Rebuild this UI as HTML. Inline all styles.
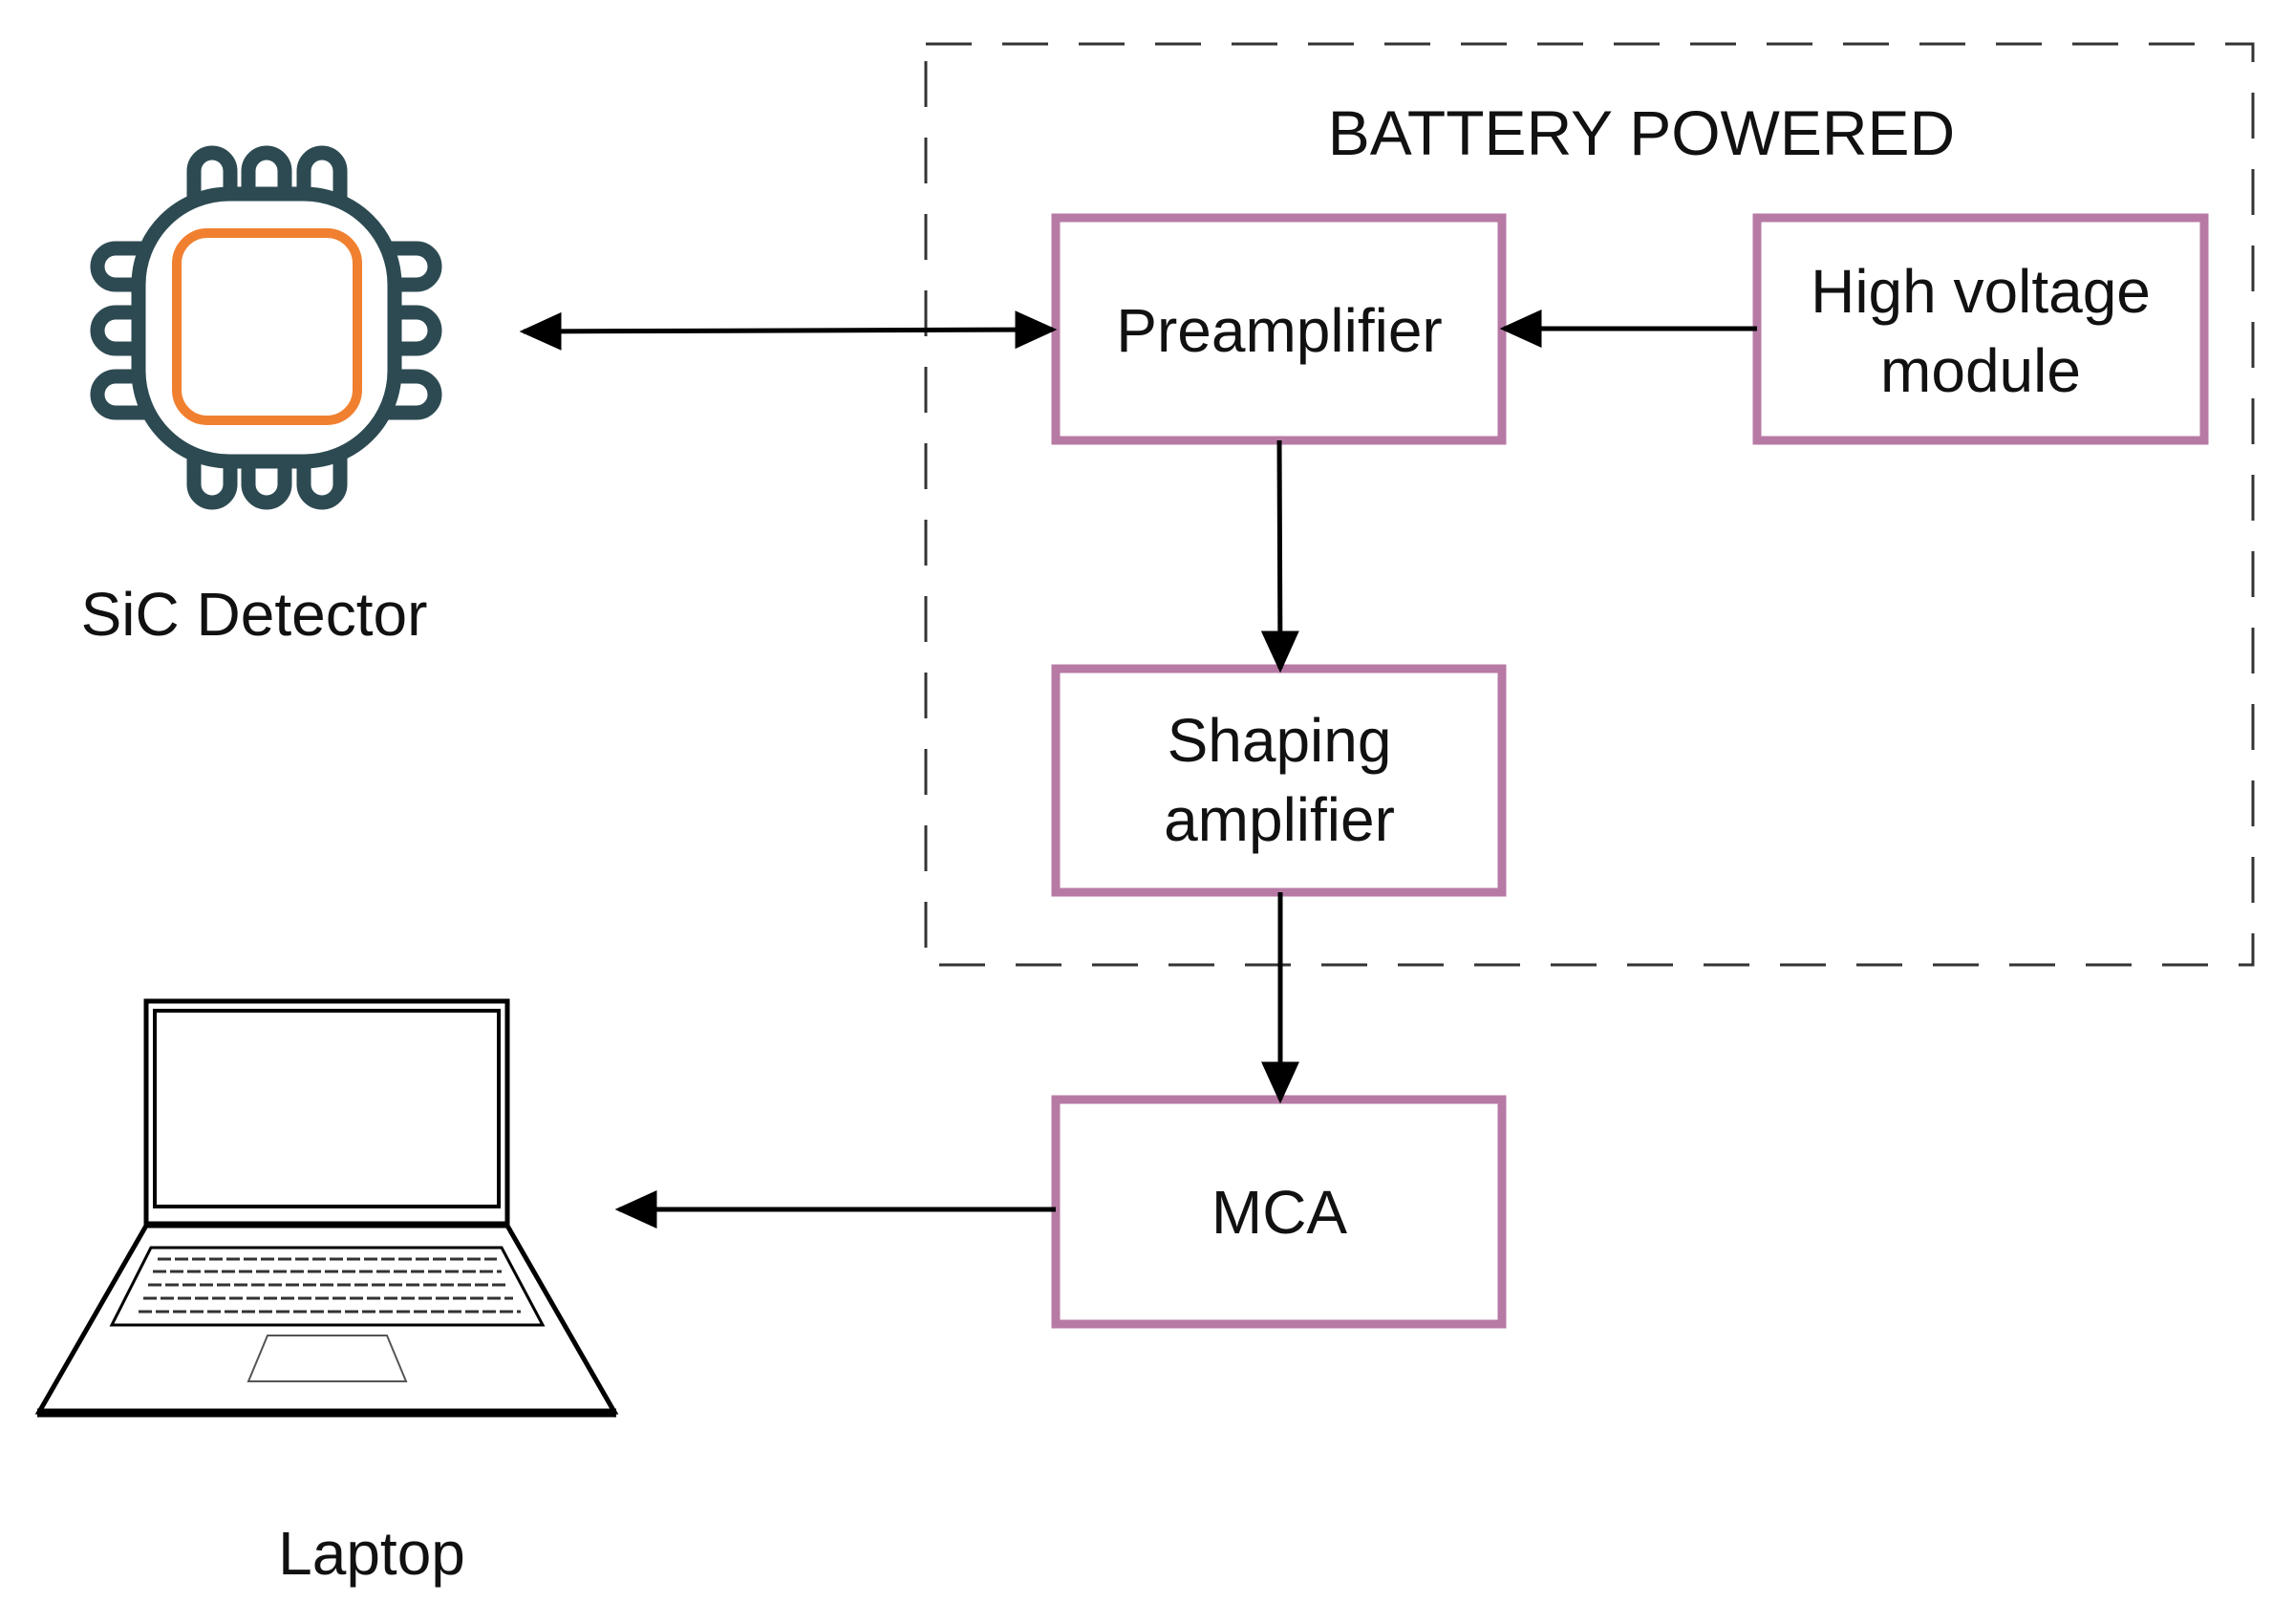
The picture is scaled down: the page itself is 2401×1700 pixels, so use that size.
<!DOCTYPE html>
<html><head><style>html,body{margin:0;padding:0;background:#fff}svg{display:block}</style></head>
<body>
<svg width="2401" height="1700" viewBox="0 0 2401 1700" xmlns="http://www.w3.org/2000/svg" font-family="Liberation Sans, Arial, sans-serif">
<defs>
<marker id="ah" viewBox="0 0 10 10" refX="9" refY="5" markerWidth="44" markerHeight="40" orient="auto-start-reverse" markerUnits="userSpaceOnUse" preserveAspectRatio="none"><path d="M0,0 L10,5 L0,10 z" fill="#000"/></marker>
</defs>
<rect x="969" y="46" width="1389" height="964" fill="none" stroke="#333" stroke-width="3" stroke-dasharray="48,32"/>
<text x="1718" y="162" font-size="66" text-anchor="middle" fill="#111">BATTERY POWERED</text>
<g fill="#fff" stroke="#b77aa5" stroke-width="9">
<rect x="1105" y="228" width="467" height="233"/>
<rect x="1839" y="228" width="468" height="233"/>
<rect x="1105" y="700" width="467" height="234"/>
<rect x="1105" y="1151" width="467" height="235"/>
</g>
<g font-size="64" text-anchor="middle" fill="#111">
<text x="1339" y="368">Preamplifier</text>
<text x="2073" y="327">High voltage</text>
<text x="2073" y="410">module</text>
<text x="1339" y="797">Shaping</text>
<text x="1339" y="880">amplifier</text>
<text x="1339" y="1291">MCA</text>
</g>
<g stroke="#000" stroke-width="5" fill="none">
<line x1="548" y1="347" x2="1102" y2="345" marker-start="url(#ah)" marker-end="url(#ah)"/>
<line x1="1839" y1="344" x2="1574" y2="344" marker-end="url(#ah)"/>
<line x1="1339" y1="461" x2="1340" y2="700" marker-end="url(#ah)"/>
<line x1="1340" y1="934" x2="1340" y2="1151" marker-end="url(#ah)"/>
<line x1="1105" y1="1266" x2="648" y2="1266" marker-end="url(#ah)"/>
</g>
<g stroke="#2d4a52" stroke-width="15" fill="#fff">
<rect x="203" y="160" width="38" height="90" rx="19"/>
<rect x="260" y="160" width="38" height="90" rx="19"/>
<rect x="318" y="160" width="38" height="90" rx="19"/>
<rect x="203" y="436" width="38" height="90" rx="19"/>
<rect x="260" y="436" width="38" height="90" rx="19"/>
<rect x="318" y="436" width="38" height="90" rx="19"/>
<rect x="102" y="260" width="90" height="38" rx="19"/>
<rect x="102" y="327" width="90" height="38" rx="19"/>
<rect x="102" y="394" width="90" height="38" rx="19"/>
<rect x="365" y="260" width="90" height="38" rx="19"/>
<rect x="365" y="327" width="90" height="38" rx="19"/>
<rect x="365" y="394" width="90" height="38" rx="19"/>
<rect x="145" y="203" width="268" height="280" rx="95"/>
</g>
<rect x="185" y="244" width="189" height="196" rx="32" fill="none" stroke="#f08030" stroke-width="10"/>
<text x="266" y="665" font-size="64" text-anchor="middle" fill="#111">SiC Detector</text>
<g stroke="#000" fill="#fff">
<rect x="153" y="1048" width="378" height="233" stroke-width="5"/>
<rect x="162" y="1058" width="360" height="205" stroke-width="4"/>
<path d="M153,1283 L531,1283 L643,1478 L41,1478 Z" stroke-width="5"/>
<line x1="39" y1="1479" x2="645" y2="1479" stroke-width="9"/>
<path d="M158,1306 L525,1306 L568,1387 L117,1387 Z" stroke-width="3"/>
<path d="M280,1398 L405,1398 L425,1446 L260,1446 Z" stroke-width="2" stroke="#555"/>
</g>
<g stroke="#333" stroke-width="3" fill="none">
<line x1="165" y1="1318" x2="520" y2="1318" stroke-dasharray="14,4"/>
<line x1="160" y1="1331" x2="525" y2="1331" stroke-dasharray="14,4"/>
<line x1="155" y1="1345" x2="530" y2="1345" stroke-dasharray="14,4"/>
<line x1="150" y1="1359" x2="537" y2="1359" stroke-dasharray="14,4"/>
<line x1="145" y1="1373" x2="545" y2="1373" stroke-dasharray="14,4"/>
</g>
<text x="389" y="1648" font-size="64" text-anchor="middle" fill="#111">Laptop</text>
</svg>
</body></html>
